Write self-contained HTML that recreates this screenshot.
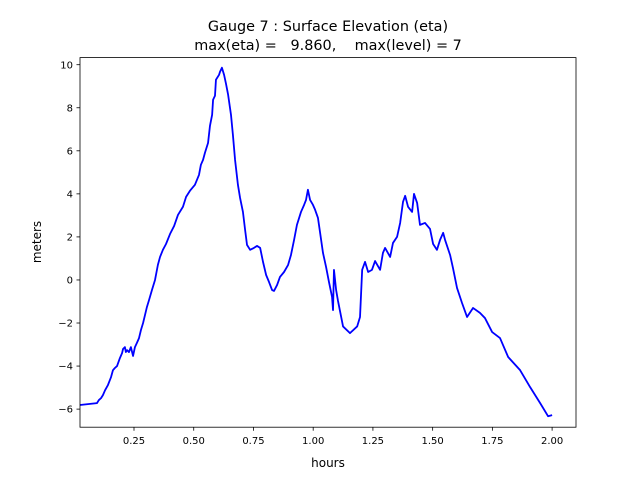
<!DOCTYPE html>
<html><head><meta charset="utf-8"><style>
body{margin:0;background:#fff}
svg{display:block;font-family:"DejaVu Sans","Liberation Sans",sans-serif}
</style></head><body>
<svg id="chart" width="640" height="480" viewBox="0 0 640 480" xmlns="http://www.w3.org/2000/svg">
<rect width="640" height="480" fill="#fff"/>
<text x="328" y="31" font-size="14.4" text-anchor="middle">Gauge 7 : Surface Elevation (eta)</text>
<text x="328" y="50" font-size="14.4" text-anchor="middle" xml:space="preserve">max(eta) =   9.860,    max(level) = 7</text>
<g id="xticks"></g>
<g id="yticks"></g>
<polyline id="line" fill="none" stroke="#0000ff" stroke-width="1.8" stroke-linejoin="round"/>
<rect x="80" y="57.6" width="496" height="369.6" fill="none" stroke="#000" stroke-width="0.8"/>
<text x="328" y="467" font-size="12" text-anchor="middle">hours</text>
<text x="0" y="0" font-size="12" text-anchor="middle" transform="translate(41,242) rotate(-90)">meters</text>
</svg>
<script>
const hours=[0.024,0.095,0.103,0.112,0.120,0.129,0.141,0.154,0.162,0.170,0.179,0.191,0.200,0.204,0.212,0.216,0.221,0.229,0.237,0.246,0.254,0.262,0.271,0.279,0.288,0.296,0.304,0.313,0.325,0.338,0.350,0.359,0.371,0.384,0.401,0.418,0.434,0.455,0.468,0.484,0.505,0.522,0.530,0.539,0.547,0.560,0.568,0.577,0.581,0.589,0.593,0.606,0.610,0.618,0.627,0.635,0.644,0.656,0.664,0.673,0.685,0.694,0.706,0.715,0.723,0.736,0.752,0.765,0.778,0.790,0.803,0.815,0.828,0.836,0.849,0.861,0.878,0.895,0.907,0.920,0.932,0.949,0.962,0.970,0.978,0.987,0.999,1.008,1.020,1.029,1.041,1.054,1.066,1.079,1.083,1.087,1.096,1.104,1.125,1.154,1.184,1.196,1.205,1.217,1.230,1.246,1.259,1.280,1.292,1.301,1.322,1.334,1.351,1.364,1.376,1.385,1.397,1.414,1.422,1.435,1.447,1.468,1.489,1.502,1.518,1.531,1.544,1.552,1.573,1.585,1.602,1.623,1.644,1.669,1.698,1.719,1.749,1.782,1.816,1.866,1.908,1.950,1.983,2.000];
const eta=[-5.81,-5.72,-5.58,-5.49,-5.35,-5.12,-4.88,-4.51,-4.19,-4.09,-4.00,-3.63,-3.40,-3.21,-3.12,-3.35,-3.26,-3.35,-3.12,-3.53,-3.12,-2.93,-2.70,-2.33,-2.00,-1.63,-1.26,-0.93,-0.47,0.00,0.70,1.07,1.40,1.67,2.14,2.51,3.02,3.40,3.86,4.14,4.42,4.88,5.35,5.58,5.91,6.37,7.16,7.67,8.37,8.56,9.30,9.53,9.67,9.86,9.53,9.12,8.60,7.67,6.74,5.58,4.42,3.81,3.16,2.33,1.63,1.40,1.49,1.58,1.49,0.84,0.23,-0.09,-0.47,-0.51,-0.23,0.14,0.37,0.70,1.16,1.86,2.56,3.16,3.49,3.72,4.19,3.72,3.49,3.26,2.88,2.19,1.26,0.60,-0.09,-0.79,-1.40,0.47,-0.47,-0.98,-2.16,-2.47,-2.16,-1.72,0.47,0.84,0.37,0.47,0.88,0.47,1.26,1.49,1.07,1.72,2.00,2.65,3.63,3.91,3.40,3.16,4.00,3.58,2.56,2.65,2.37,1.67,1.40,1.86,2.19,1.86,1.16,0.56,-0.37,-1.07,-1.72,-1.30,-1.53,-1.77,-2.42,-2.70,-3.58,-4.19,-4.98,-5.72,-6.33,-6.28];
const xTicks=[0.25,0.50,0.75,1.00,1.25,1.50,1.75,2.00];
const yTicks=[-6,-4,-2,0,2,4,6,8,10];
const X0=80,X1=576,Y0=427.2,Y1=57.6,xmin=0.024,xmax=2.1,ymin=-6.84,ymax=10.33;
const sx=v=>X0+(v-xmin)/(xmax-xmin)*(X1-X0);
const sy=v=>Y0-(v-ymin)/(ymax-ymin)*(Y0-Y1);
const NS="http://www.w3.org/2000/svg";
const line=document.getElementById('line');
line.setAttribute('points',hours.map((h,i)=>sx(h).toFixed(2)+','+sy(eta[i]).toFixed(2)).join(' '));
const gx=document.getElementById('xticks'),gy=document.getElementById('yticks');
xTicks.forEach(t=>{
  const l=document.createElementNS(NS,'line');
  
  
  l.setAttribute('x1',sx(t));l.setAttribute('x2',sx(t));l.setAttribute('y1',Y0);l.setAttribute('y2',Y0+3.5);l.setAttribute('stroke','#000');l.setAttribute('stroke-width','0.8');
  gx.appendChild(l);
  const s=document.createElementNS(NS,'text');
  
  
  s.setAttribute('x',sx(t));s.setAttribute('y',Y0+17);s.setAttribute('font-size','10');s.setAttribute('text-anchor','middle');
  s.textContent=t.toFixed(2);gx.appendChild(s);
});
yTicks.forEach(t=>{
  const l=document.createElementNS(NS,'line');
  
  
  l.setAttribute('x1',X0-3.5);l.setAttribute('x2',X0);l.setAttribute('y1',sy(t));l.setAttribute('y2',sy(t));l.setAttribute('stroke','#000');l.setAttribute('stroke-width','0.8');
  gy.appendChild(l);
  const s=document.createElementNS(NS,'text');
  
  
  s.setAttribute('x',X0-7);s.setAttribute('y',sy(t)+3.6);s.setAttribute('font-size','10');s.setAttribute('text-anchor','end');
  s.textContent=t<0?'\u2212'+Math.abs(t):String(t);gy.appendChild(s);
});
</script>
</body></html>
